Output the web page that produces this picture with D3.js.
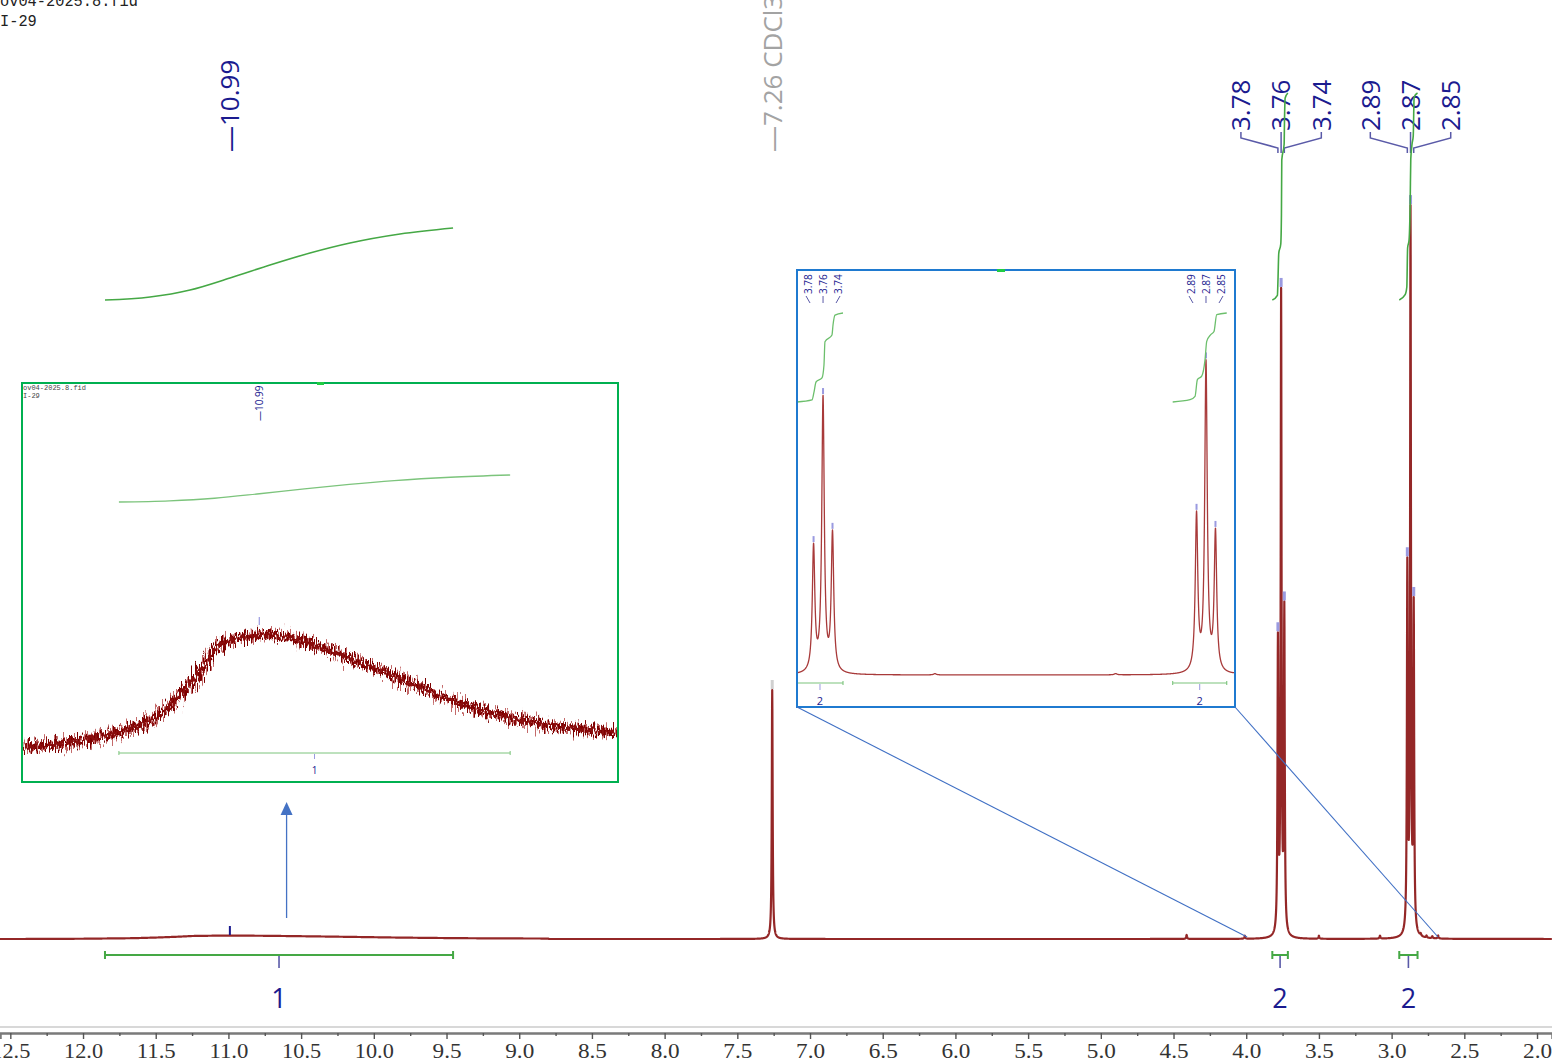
<!DOCTYPE html>
<html>
<head>
<meta charset="utf-8">
<script src="https://cdn.jsdelivr.net/npm/d3@7"></script>
<style>
  html, body { margin: 0; padding: 0; background: #fff; overflow: hidden; }
  svg { display: block; }
</style>
</head>
<body>
<svg id="chart" width="1552" height="1063"></svg>
<script>
// ---- data ----
const sampleName = ["ov04-2025.8.fid", "I-29"];

// resolved lines (ppm, height in plot units)
const peakPpm = [7.26, 3.782, 3.760, 3.738, 2.892, 2.870, 2.848, 4.41, 4.01, 3.50, 3.08, 2.80, 2.76, 2.72, 2.68];
const peakHeight = [249, 289, 636, 320, 362, 717, 322, 4, 3, 3, 3, 2, 2, 2, 3];

// broad acid hump round 10.99 (as seen in the green zoom)
const humpPpm = [12.436, 12.008, 11.653, 11.488, 11.342, 11.250, 11.103, 10.938, 10.773, 10.584, 10.345, 10.107, 9.869, 9.630, 9.392, 9.154, 8.799];
const humpVal = [13, 21.5, 40, 63, 90, 113, 123, 125, 121, 111, 96, 80, 63, 50, 40, 33, 28];

// integral curves
const intAPpm = [11.849, 11.539, 11.264, 10.989, 10.714, 10.439, 10.164, 9.820, 9.455];
const intAVal = [0, 3, 10, 22, 35, 47, 57, 66, 72];
const intBPpm = [3.8205, 3.7856, 3.781, 3.7763, 3.7624, 3.7578, 3.7555, 3.7392, 3.7368, 3.7322, 3.7136];
const intBVal = [0, 4.7, 23, 46.5, 56, 86, 140, 156, 179, 202, 207];
const intCPpm = [2.9474, 2.907, 2.8955, 2.890, 2.8800, 2.8723, 2.8683, 2.859, 2.8514, 2.8451, 2.8218];
const intCVal = [0, 5.3, 13, 52, 60, 98, 141, 156.5, 164, 203, 207];

// integration ranges and values
const intFrom = [11.849, 3.8205, 2.9474];
const intTo = [9.455, 3.7136, 2.8218];
const intLabel = ["1", "2", "2"];

// peak picking labels
const pickPpm = [3.782, 3.760, 3.738, 2.892, 2.870, 2.848];
const pickText = ["3.78", "3.76", "3.74", "2.89", "2.87", "2.85"];
const pickShift = [-37, 0, 37, -37, 0, 37];

// axis ticks
const majorTicks = [12.5, 12.0, 11.5, 11.0, 10.5, 10.0, 9.5, 9.0, 8.5, 8.0, 7.5, 7.0, 6.5, 6.0, 5.5, 5.0, 4.5, 4.0, 3.5, 3.0, 2.5, 2.0];
const minorTicks = [12.25, 11.75, 11.25, 10.75, 10.25, 9.75, 9.25, 8.75, 8.25, 7.75, 7.25, 6.75, 6.25, 5.75, 5.25, 4.75, 4.25, 3.75, 3.25, 2.75, 2.25];

// zoom window edges on the main axis
const zoomEdges = [3.994, 2.681];

// ---- style ----
const NAVY = "#1b1b8f";
const LINK = "#5a5aa8";
const MARK = "#9a9ae0";
const GREEN = "#45a845";
const RED = "#8e1b1b";
const LW = 0.0035; // line half width, ppm
const FONT = "'Open Sans', 'Noto Sans', sans-serif";

const svg = d3.select("#chart");
const defs = svg.append("defs");

defs.append("clipPath").attr("id", "clipG")
  .append("rect").attr("x", 22).attr("y", 383).attr("width", 596).attr("height", 399);
defs.append("clipPath").attr("id", "clipB")
  .append("rect").attr("x", 797).attr("y", 270).attr("width", 438).attr("height", 437);

function noiseFilter(id, seed, freq, scale) {
  const f = defs.append("filter").attr("id", id)
    .attr("filterUnits", "userSpaceOnUse")
    .attr("x", 0).attr("y", 560).attr("width", 640).attr("height", 240);
  f.append("feTurbulence").attr("type", "fractalNoise")
    .attr("baseFrequency", freq).attr("numOctaves", 2).attr("seed", seed).attr("result", "t");
  f.append("feDisplacementMap").attr("in", "SourceGraphic").attr("in2", "t")
    .attr("scale", scale).attr("xChannelSelector", "G").attr("yChannelSelector", "R");
}
noiseFilter("noiseA", 4, "1.1 0.05", 36);
noiseFilter("noiseB", 11, "1.3 0.07", 26);
noiseFilter("noiseC", 23, "0.9 0.09", 16);

// ---- scales ----
const x = d3.scaleLinear().domain([12.571, 1.897]).range([0, 1552]);
const y = d3.scaleLinear().domain([0, 740]).range([939, 199]);
const yInt = d3.scaleLinear().domain([0, 207]).range([300, 93]);

const xG = d3.scaleLinear().domain([12.442, 8.795]).range([22, 618]);
const yG = d3.scaleLinear().domain([0, 125]).range([760, 635]);
const yIntG = d3.scaleLinear().domain([0, 72]).range([502, 475]);

const xB = d3.scaleLinear().domain([3.8205, 2.8026]).range([797, 1235]);
const yB = d3.scaleLinear().domain([0, 740]).range([675, 675 - 0.43 * 740]);
const yIntB = d3.scaleLinear().domain([0, 207]).range([402, 313]);

const hump = d3.scaleLinear().domain(humpPpm).range(humpVal);
const HUMP_MAIN = 0.03;

function lines(p) {
  let s = 0;
  for (let i = 0; i < peakPpm.length; i++) {
    const d = p - peakPpm[i];
    s += peakHeight[i] * LW * LW / (d * d + LW * LW);
  }
  return s;
}
function mainIntensity(p) {
  const inside = p <= humpPpm[0] && p >= humpPpm[humpPpm.length - 1];
  const h = inside ? Math.max(0, hump(p) - humpVal[0]) * HUMP_MAIN : 0;
  return lines(p) + h;
}

// ---- header text ----
svg.append("g").selectAll("text").data(sampleName).join("text")
  .attr("x", 0).attr("y", (d, i) => 6 + i * 20)
  .attr("font-family", "'Liberation Mono', monospace").attr("font-size", 17)
  .attr("textLength", d => d.length * 9.2).attr("lengthAdjust", "spacingAndGlyphs")
  .attr("fill", "#222").text(d => d);

// ---- peak labels (main) ----
const gLab = svg.append("g");
gLab.append("text")
  .attr("transform", `translate(${x(10.99)},152) rotate(-90)`)
  .attr("dy", "0.36em").attr("font-family", FONT).attr("font-size", 26)
  .attr("fill", NAVY).text("\u201410.99");
gLab.append("text")
  .attr("transform", `translate(${x(7.26)},152) rotate(-90)`)
  .attr("dy", "0.36em").attr("font-family", FONT).attr("font-size", 26)
  .attr("fill", "#a3a3a3").text("\u20147.26 CDCl3");

pickPpm.forEach((p, i) => {
  const lx = x(p) + pickShift[i];
  gLab.append("text")
    .attr("transform", `translate(${lx},131) rotate(-90)`)
    .attr("dy", "0.36em").attr("font-family", FONT).attr("font-size", 26)
    .attr("fill", NAVY).text(pickText[i]);
  const path = pickShift[i] === 0
    ? `M${lx},132 L${x(p)},153`
    : `M${lx},132 L${lx},138 L${x(p)},148 L${x(p)},153`;
  gLab.append("path").attr("d", path).attr("fill", "none")
    .attr("stroke", LINK).attr("stroke-width", 1.5);
});

// ---- main spectrum ----
const gridMain = d3.range(12.571, 1.897, -0.001);
const specLine = d3.line().x(d => x(d)).y(d => y(mainIntensity(d)));
svg.append("path").attr("d", specLine(gridMain))
  .attr("fill", "none").attr("stroke", RED).attr("stroke-width", 2.2)
  .attr("stroke-linejoin", "round").attr("opacity", 0.95);

// peak markers
svg.append("rect").attr("x", x(7.26) - 1.5).attr("y", y(lines(7.26)) - 10)
  .attr("width", 3).attr("height", 9).attr("fill", "#d0d0d0");
svg.append("rect").attr("x", x(10.99) - 1).attr("y", 926)
  .attr("width", 2).attr("height", 9).attr("fill", NAVY);
svg.append("g").selectAll("rect").data(pickPpm).join("rect")
  .attr("x", d => x(d) - 1.5).attr("y", d => y(lines(d)) - 10)
  .attr("width", 3).attr("height", 9).attr("fill", MARK);

// ---- main integral curves ----
const intLineMain = (ppm, val, ys) => d3.line().curve(d3.curveMonotoneX)
  .x((d, i) => x(ppm[i])).y((d, i) => ys(val[i]))(val);
[[intAPpm, intAVal, d3.scaleLinear().domain([0, 72]).range([300, 228])],
 [intBPpm, intBVal, yInt], [intCPpm, intCVal, yInt]].forEach(([p, v, s]) => {
  svg.append("path").attr("d", intLineMain(p, v, s))
    .attr("fill", "none").attr("stroke", GREEN).attr("stroke-width", 1.6);
});

// ---- integration bars (main) ----
const gBars = svg.append("g");
intFrom.forEach((f, i) => {
  const x0 = x(f), x1 = x(intTo[i]), xm = x((f + intTo[i]) / 2);
  gBars.append("path")
    .attr("d", `M${x0},955 L${x1},955 M${x0},951 L${x0},959 M${x1},951 L${x1},959`)
    .attr("stroke", GREEN).attr("stroke-width", 2).attr("fill", "none");
  gBars.append("line").attr("x1", xm).attr("x2", xm).attr("y1", 956).attr("y2", 968)
    .attr("stroke", LINK).attr("stroke-width", 1.6);
  gBars.append("text").attr("x", xm).attr("y", 1008).attr("text-anchor", "middle")
    .attr("font-family", FONT).attr("font-size", 27).attr("fill", NAVY).text(intLabel[i]);
});

// ---- axis ----
svg.append("line").attr("x1", 0).attr("x2", 1552).attr("y1", 1027).attr("y2", 1027)
  .attr("stroke", "#d8d8d8").attr("stroke-width", 2);
const gAxis = svg.append("g").attr("transform", "translate(0,1033)");
gAxis.call(d3.axisBottom(x).tickValues(majorTicks).tickSize(6).tickPadding(3).tickFormat(d3.format(".1f")));
gAxis.select(".domain").attr("stroke", "#7a7a7a").attr("stroke-width", 2.5);
gAxis.selectAll(".tick line").attr("stroke", "#555").attr("stroke-width", 1.4);
gAxis.selectAll(".tick text")
  .attr("font-family", "'Liberation Serif', serif").attr("font-size", 22)
  .attr("fill", "#333").attr("dy", "0.72em")
  .attr("textLength", d => d >= 10 ? 39 : 29).attr("lengthAdjust", "spacingAndGlyphs");
const gMinor = svg.append("g").attr("transform", "translate(0,1033)");
gMinor.call(d3.axisBottom(x).tickValues(minorTicks).tickSize(3).tickFormat(""));
gMinor.select(".domain").remove();
gMinor.selectAll(".tick line").attr("stroke", "#555").attr("stroke-width", 1.4);

// ---- arrow to green zoom ----
const ax = x(10.60);
svg.append("line").attr("x1", ax).attr("x2", ax).attr("y1", 918).attr("y2", 812)
  .attr("stroke", "#4472c4").attr("stroke-width", 1.3);
svg.append("path").attr("d", `M${ax},802 L${ax - 6},815 L${ax + 6},815 Z`).attr("fill", "#4472c4");

// ---- green zoom box (acid hump) ----
const gG = svg.append("g");
gG.append("rect").attr("x", 22).attr("y", 383).attr("width", 596).attr("height", 399)
  .attr("fill", "#fff");
const gGc = gG.append("g").attr("clip-path", "url(#clipG)");
gGc.selectAll("text.hdr").data(sampleName).join("text").attr("class", "hdr")
  .attr("x", 23).attr("y", (d, i) => 390 + i * 8)
  .attr("font-family", "'Liberation Mono', monospace").attr("font-size", 7)
  .attr("fill", "#444").text(d => d);
gGc.append("text")
  .attr("transform", `translate(${xG(10.99)},421) rotate(-90)`)
  .attr("dy", "0.36em").attr("font-family", FONT).attr("font-size", 10)
  .attr("fill", NAVY).text("\u201410.99");
gGc.append("path")
  .attr("d", d3.line().curve(d3.curveMonotoneX).x((d, i) => xG(intAPpm[i])).y(d => yIntG(d))(intAVal))
  .attr("fill", "none").attr("stroke", "#7cc47c").attr("stroke-width", 1.3);
const humpLine = d3.line().curve(d3.curveCatmullRom).x(d => xG(d)).y((d, i) => yG(humpVal[i]));
gGc.append("path").attr("d", humpLine(humpPpm))
  .attr("fill", "none").attr("stroke", "#c46a6a").attr("stroke-width", 5)
  .attr("filter", "url(#noiseA)");
gGc.append("path").attr("d", humpLine(humpPpm))
  .attr("fill", "none").attr("stroke", "#7d0000").attr("stroke-width", 5)
  .attr("filter", "url(#noiseB)");
gGc.append("path").attr("d", humpLine(humpPpm))
  .attr("fill", "none").attr("stroke", "#8a0a0a").attr("stroke-width", 4)
  .attr("filter", "url(#noiseC)");
gGc.append("rect").attr("x", xG(10.99) - 0.6).attr("y", 617).attr("width", 1.2).attr("height", 8)
  .attr("fill", MARK);
{
  const x0 = xG(intFrom[0]), x1 = xG(intTo[0]), xm = xG((intFrom[0] + intTo[0]) / 2);
  gGc.append("path")
    .attr("d", `M${x0},753 L${x1},753 M${x0},751 L${x0},755 M${x1},751 L${x1},755`)
    .attr("stroke", "#7cc47c").attr("stroke-width", 1).attr("fill", "none");
  gGc.append("line").attr("x1", xm).attr("x2", xm).attr("y1", 754).attr("y2", 759)
    .attr("stroke", MARK).attr("stroke-width", 1);
  gGc.append("text").attr("x", xm).attr("y", 774).attr("text-anchor", "middle")
    .attr("font-family", FONT).attr("font-size", 10).attr("fill", NAVY).text(intLabel[0]);
}
gG.append("rect").attr("x", 22).attr("y", 383).attr("width", 596).attr("height", 399)
  .attr("fill", "none").attr("stroke", "#00b050").attr("stroke-width", 2);
gG.append("rect").attr("x", 317).attr("y", 382).attr("width", 7).attr("height", 3).attr("fill", "#22cc44");

// ---- blue zoom box (CH2 triplets) ----
const gB = svg.append("g");
gB.append("rect").attr("x", 797).attr("y", 270).attr("width", 438).attr("height", 437)
  .attr("fill", "#fff");
const gBc = gB.append("g").attr("clip-path", "url(#clipB)");
const gridB = d3.range(3.8205, 2.8026, -0.0003);
gBc.append("path")
  .attr("d", d3.line().x(d => xB(d)).y(d => yB(lines(d)))(gridB))
  .attr("fill", "none").attr("stroke", "#a83a3a").attr("stroke-width", 1.3)
  .attr("stroke-linejoin", "round");
gBc.selectAll("rect.mk").data(pickPpm).join("rect").attr("class", "mk")
  .attr("x", d => xB(d) - 1).attr("y", d => yB(lines(d)) - 7)
  .attr("width", 2).attr("height", 6).attr("fill", MARK);
[[intBPpm, intBVal], [intCPpm, intCVal]].forEach(([p, v]) => {
  gBc.append("path")
    .attr("d", d3.line().curve(d3.curveMonotoneX).x((d, i) => xB(p[i])).y(d => yIntB(d))(v))
    .attr("fill", "none").attr("stroke", "#6cbf6c").attr("stroke-width", 1.3);
});
pickPpm.forEach((p, i) => {
  const centre = pickPpm[i - Math.sign(pickShift[i])];
  const lx = xB(centre) + Math.sign(pickShift[i]) * 15;
  gBc.append("text")
    .attr("transform", `translate(${lx},294) rotate(-90)`)
    .attr("dy", "0.36em").attr("font-family", FONT).attr("font-size", 10)
    .attr("fill", NAVY).text(pickText[i]);
  const s = Math.sign(pickShift[i]);
  gBc.append("line")
    .attr("x1", lx - 2 * s).attr("y1", 303).attr("x2", lx + 2 * s).attr("y2", 296)
    .attr("stroke", LINK).attr("stroke-width", 1);
});
[1, 2].forEach(k => {
  const x0 = xB(intFrom[k]), x1 = xB(intTo[k]), xm = xB((intFrom[k] + intTo[k]) / 2);
  gBc.append("path")
    .attr("d", `M${x0},683 L${x1},683 M${x0},681 L${x0},685 M${x1},681 L${x1},685`)
    .attr("stroke", "#7cc47c").attr("stroke-width", 1.1).attr("fill", "none");
  gBc.append("line").attr("x1", xm).attr("x2", xm).attr("y1", 684).attr("y2", 690)
    .attr("stroke", MARK).attr("stroke-width", 1);
  gBc.append("text").attr("x", xm).attr("y", 705).attr("text-anchor", "middle")
    .attr("font-family", FONT).attr("font-size", 11).attr("fill", NAVY).text(intLabel[k]);
});
gB.append("rect").attr("x", 797).attr("y", 270).attr("width", 438).attr("height", 437)
  .attr("fill", "none").attr("stroke", "#1f7ad0").attr("stroke-width", 2);
gB.append("rect").attr("x", 997).attr("y", 269).attr("width", 8).attr("height", 3).attr("fill", "#22cc44");

// zoom window connectors
svg.append("line").attr("x1", 797).attr("y1", 707).attr("x2", x(zoomEdges[0])).attr("y2", 937)
  .attr("stroke", "#3f6fc4").attr("stroke-width", 1.1);
svg.append("line").attr("x1", 1235).attr("y1", 707).attr("x2", x(zoomEdges[1])).attr("y2", 937)
  .attr("stroke", "#3f6fc4").attr("stroke-width", 1.1);
</script>
</body>
</html>
